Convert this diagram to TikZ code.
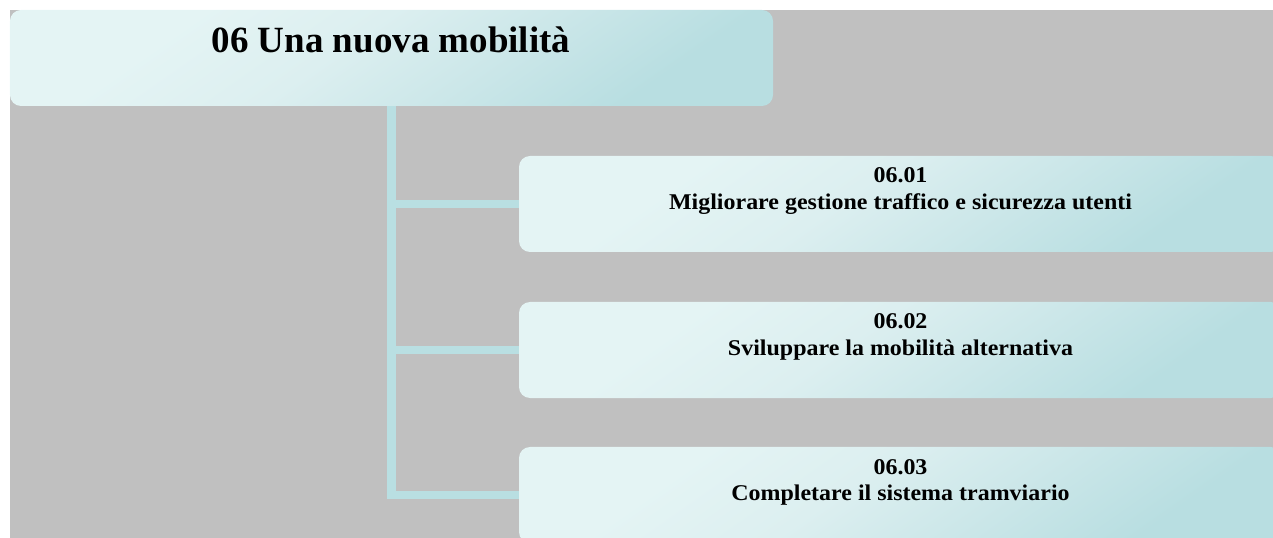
\documentclass[tikz,border=0pt]{standalone}
\usepackage{fontspec}
\setmainfont{Liberation Serif}
\definecolor{bgcol}{HTML}{C0C0C0}
\definecolor{boxlight}{HTML}{E4F4F4}
\definecolor{boxmid}{HTML}{DCEFF0}
\definecolor{boxmid2}{HTML}{CCE7E9}
\definecolor{boxdark}{HTML}{B8DEE1}
\definecolor{linecol}{HTML}{B9DFE2}
\pgfdeclareverticalshading{panelshade}{100bp}{color(0bp)=(boxdark); color(27bp)=(boxdark); color(42bp)=(boxmid2); color(55bp)=(boxmid); color(70bp)=(boxlight); color(100bp)=(boxlight)}
\begin{document}
\begin{tikzpicture}[x=1bp,y=-1bp,
  panel/.style={rounded corners=11bp, shading=panelshade, shading angle=35, inner sep=0pt, minimum height=96bp, minimum width=763bp},
  conn/.style={draw=linecol, line width=8.5bp},
  titletext/.style={font=\bfseries\fontsize{37bp}{44bp}\selectfont, inner sep=0pt, anchor=base},
  childtext/.style={font=\bfseries\fontsize{22.5bp}{26.5bp}\selectfont\addfontfeature{FakeStretch=1.065}, align=center, inner sep=0pt, anchor=base}]
\useasboundingbox (0,0) rectangle (1273,538);
\fill[bgcol] (10,10) rectangle (1273,538);
\begin{scope}
\clip (0,0) rectangle (1273,538);
\node[panel] (root) at (391.5,58) {};
\node[panel] (c1) at (900.5,204) {};
\node[panel] (c2) at (900.5,350) {};
\node[panel] (c3) at (900.5,495) {};
\end{scope}
\draw[conn] (root.south) |- (c1.west);
\draw[conn] (root.south) |- (c2.west);
\draw[conn] (root.south) |- (c3.west);
\node[titletext] (rt) at (391,52.5) {06 Una nuova mobilità};
\node[childtext] (t1) at (900.5,209.5) {06.01\\Migliorare gestione traffico e sicurezza utenti};
\node[childtext] (t2) at (900.5,355.5) {06.02\\Sviluppare la mobilità alternativa};
\node[childtext] (t3) at (900.5,500.5) {06.03\\Completare il sistema tramviario};
\end{tikzpicture}
\end{document}
